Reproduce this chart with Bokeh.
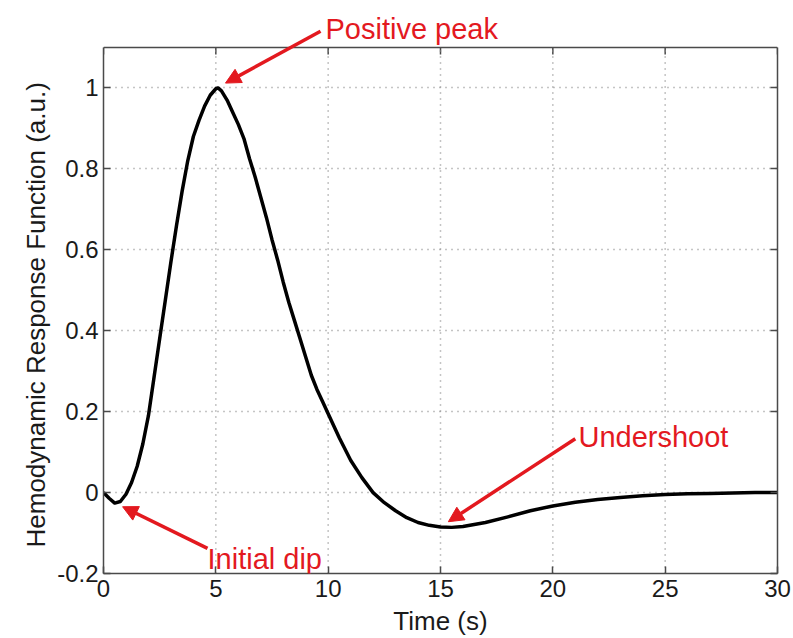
from bokeh.plotting import figure
from bokeh.models import (Range1d, LinearAxis, FixedTicker, Label, Arrow,
                          NormalHead, ColumnDataSource, Span, Title)
from bokeh.embed import file_html
from bokeh.resources import INLINE

# Hemodynamic response function samples (time in s, amplitude in a.u.)
time_s = [0, 0.25, 0.5, 0.75, 1.0, 1.25, 1.5, 1.75, 2.0, 2.25, 2.5, 2.75,
          3.0, 3.25, 3.5, 3.75, 4.0, 4.25, 4.5, 4.75, 5.0, 5.1, 5.25, 5.5,
          5.75, 6.0, 6.25, 6.5, 6.75, 7.0, 7.25, 7.5, 7.75, 8.0, 8.25, 8.5,
          8.75, 9.0, 9.25, 9.5, 9.75, 10.0, 10.5, 11.0, 11.5, 12.0, 12.5,
          13.0, 13.5, 14.0, 14.5, 15.0, 15.5, 16.0, 17.0, 18.0, 19.0, 20.0,
          21.0, 22.0, 23.0, 24.0, 25.0, 26.0, 27.0, 28.0, 29.0, 30.0]
hrf = [0.0, -0.014, -0.026, -0.022, -0.004, 0.025, 0.065, 0.12, 0.19,
       0.285, 0.38, 0.475, 0.57, 0.66, 0.745, 0.82, 0.88, 0.92, 0.955,
       0.982, 0.998, 1.0, 0.993, 0.97, 0.94, 0.91, 0.875, 0.825, 0.78,
       0.73, 0.68, 0.625, 0.575, 0.52, 0.47, 0.425, 0.38, 0.335, 0.29,
       0.255, 0.225, 0.195, 0.135, 0.08, 0.037, 0.0, -0.025, -0.045,
       -0.062, -0.074, -0.081, -0.085, -0.086, -0.084, -0.074, -0.06,
       -0.045, -0.033, -0.024, -0.017, -0.012, -0.008, -0.005, -0.003,
       -0.002, -0.001, 0.0, 0.0]

x_ticks = [0, 5, 10, 15, 20, 25, 30]
y_ticks = [-0.2, 0, 0.2, 0.4, 0.6, 0.8, 1]
y_tick_labels = ["-0.2", "0", "0.2", "0.4", "0.6", "0.8", "1"]

# Annotations: text, text position (left, baseline), arrow start and tip
annot_text = ["Positive peak", "Initial dip", "Undershoot"]
annot_tx = [9.88, 4.63, 21.14]
annot_ty = [1.146, -0.165, 0.138]
arrow_x0 = [9.66, 4.63, 21.0]
arrow_y0 = [1.14, -0.138, 0.133]
arrow_x1 = [5.43, 0.85, 15.35]
arrow_y1 = [1.012, -0.035, -0.072]

X_MIN, X_MAX = 0, 30
Y_MIN, Y_MAX = -0.2, 1.1

FONT = "Liberation Sans"
RED = "#e3191f"
AXIS_GREY = "#4a4a4a"
GRID_GREY = "#8a8a8a"
TEXT_COLOR = "#1a1a1a"

# the frame runs to the top edge so the annotations above the axes box
# are not clipped; the box itself is closed at Y_MAX
W, H = 793, 638
BORDER_L, BORDER_R, BORDER_B = 103, 16, 65
BOX_TOP_PX = 47
frame_h = H - BORDER_B
box_h = frame_h - BOX_TOP_PX
y_top = Y_MAX + BOX_TOP_PX * (Y_MAX - Y_MIN) / box_h
tick_len = 7 * (Y_MAX - Y_MIN) / box_h

p = figure(width=W, height=H, output_backend="svg", toolbar_location=None,
           title=None,
           x_range=Range1d(X_MIN, X_MAX), y_range=Range1d(Y_MIN, y_top),
           min_border_left=BORDER_L, min_border_right=BORDER_R,
           min_border_top=0, min_border_bottom=BORDER_B)
p.background_fill_color = "white"
p.border_fill_color = "white"
p.outline_line_color = None

for ax in p.xaxis + p.yaxis:
    ax.axis_line_color = AXIS_GREY
    ax.axis_line_width = 1.5
    ax.major_tick_line_color = AXIS_GREY
    ax.major_tick_line_width = 1.5
    ax.major_tick_in = 7
    ax.major_tick_out = 0
    ax.minor_tick_line_color = None
    ax.major_label_text_font = FONT
    ax.major_label_text_font_size = "24px"
    ax.major_label_text_color = TEXT_COLOR
    ax.axis_label_text_font = FONT
    ax.axis_label_text_font_size = "26px"
    ax.axis_label_text_font_style = "normal"
    ax.axis_label_text_color = TEXT_COLOR

p.xaxis.ticker = FixedTicker(ticks=x_ticks)
p.yaxis.ticker = FixedTicker(ticks=y_ticks)
p.yaxis.bounds = (Y_MIN, Y_MAX)
p.yaxis.major_label_overrides = {float(v): s for v, s in zip(y_ticks, y_tick_labels)}
p.xaxis.axis_label = "Time (s)"
p.xaxis.major_label_standoff = 6
p.xaxis.axis_label_standoff = 6
p.yaxis.major_label_standoff = 5

# y label as a side title so it can be centred on the axes box
# rather than on the taller frame
box_mid_offset = 26
p.add_layout(Title(text="Hemodynamic Response Function (a.u.)", align="left",
                   offset=box_mid_offset, text_font=FONT,
                   text_font_size="26px", text_font_style="normal",
                   text_color=TEXT_COLOR, standoff=8), "left")

# right side of the box: inward ticks, no labels
right = LinearAxis(ticker=FixedTicker(ticks=y_ticks), bounds=(Y_MIN, Y_MAX),
                   major_label_overrides={float(v): "" for v in y_ticks},
                   major_label_text_color=None,
                   major_label_text_font_size="1px",
                   axis_line_color=AXIS_GREY, major_tick_line_color=AXIS_GREY,
                   major_tick_in=7, major_tick_out=0, minor_tick_line_color=None,
                   axis_line_width=1.5, major_tick_line_width=1.5)
p.add_layout(right, "right")

# top side of the box with its inward ticks
p.add_layout(Span(location=Y_MAX, dimension="width", line_color=AXIS_GREY,
                  line_width=1.5))
p.segment(x0=x_ticks, y0=[Y_MAX] * len(x_ticks), x1=x_ticks,
          y1=[Y_MAX - tick_len] * len(x_ticks),
          line_color=AXIS_GREY, line_width=1.5)

# dotted grid, kept inside the box
p.xgrid.visible = False
p.ygrid.ticker = FixedTicker(ticks=y_ticks[1:])
p.ygrid.grid_line_color = GRID_GREY
p.ygrid.grid_line_dash = "1 5"
p.ygrid.grid_line_width = 1.5
inner_x = x_ticks[1:-1]
p.segment(x0=inner_x, y0=[Y_MIN] * len(inner_x), x1=inner_x,
          y1=[Y_MAX] * len(inner_x), line_color=GRID_GREY,
          line_dash="1 5", line_width=1.5)

src = ColumnDataSource(data=dict(t=time_s, v=hrf))
p.line("t", "v", source=src, line_color="black", line_width=3.5,
       line_join="round")

for i in range(len(annot_text)):
    p.add_layout(Arrow(end=NormalHead(size=15, fill_color=RED, line_color=RED,
                                      line_width=1),
                       x_start=arrow_x0[i], y_start=arrow_y0[i],
                       x_end=arrow_x1[i], y_end=arrow_y1[i],
                       line_color=RED, line_width=3.5))
    p.add_layout(Label(x=annot_tx[i], y=annot_ty[i], text=annot_text[i],
                       text_font=FONT, text_font_size="29px", text_color=RED,
                       text_baseline="alphabetic", text_align="left"))

open("out.html", "w").write(file_html(p, INLINE))
